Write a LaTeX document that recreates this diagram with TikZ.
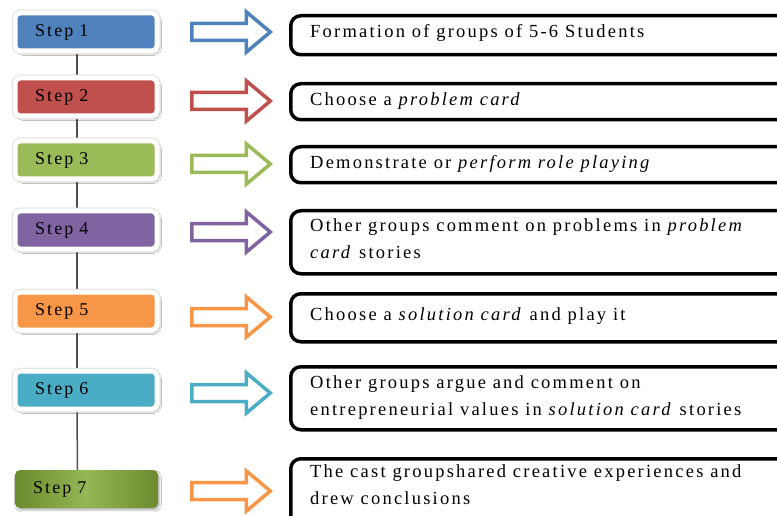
\documentclass[tikz,border=0pt]{standalone}
\usepackage{fontspec}
\setmainfont{Liberation Serif}[LetterSpace=12]
\usetikzlibrary{shapes.arrows,shadows.blur,backgrounds}

\definecolor{cblue}{HTML}{4F81BD}
\definecolor{cred}{HTML}{C0504D}
\definecolor{cgreen}{HTML}{9BBB59}
\definecolor{cpurple}{HTML}{8064A2}
\definecolor{corange}{HTML}{F79646}
\definecolor{caqua}{HTML}{4BACC6}
\definecolor{colivedark}{HTML}{6C8A2E}
\definecolor{colivelight}{HTML}{95B755}
\definecolor{cline}{HTML}{505050}

\begin{document}
\begin{tikzpicture}[x=1pt,y=-1pt,
  stepbox/.style={
    blur shadow={shadow xshift=2.5pt,shadow yshift=-2.5pt,shadow blur steps=6,shadow opacity=35},
    preaction={draw=black!16,line width=6.5pt,rounded corners=5pt},
    fill=#1, draw=white, line width=5pt, rounded corners=5pt,
    minimum width=142pt, minimum height=38pt, text width=102pt,
    inner xsep=20pt, inner ysep=0pt, align=left,
    font=\fontsize{18}{20}\selectfont},
  laststep/.style={
    blur shadow={shadow xshift=1.5pt,shadow yshift=-2pt,shadow blur steps=5,shadow opacity=30},
    shading=axis, left color=colivedark, right color=colivedark, middle color=colivelight,
    rounded corners=5pt,
    minimum width=143pt, minimum height=38pt, text width=107pt,
    inner xsep=18pt, inner ysep=0pt, align=left,
    font=\fontsize{18}{20}\selectfont},
  flowarrow/.style={single arrow, draw=#1, fill=white, line width=3.5pt,
    minimum height=78.5pt, minimum width=36.5pt, inner xsep=0pt, inner ysep=6.75pt,
    single arrow head extend=11.5pt, single arrow tip angle=80, line join=miter},
  infobox/.style={draw=black, line width=3.5pt, rounded corners=10pt, fill=white,
    minimum width=520pt, anchor=north west, inner sep=0pt},
  infotext/.style={anchor=west, align=left, inner sep=0pt,
    font=\fontsize{18.5}{27}\selectfont},
  link/.style={draw=cline, line width=1.5pt}
]
\useasboundingbox (0,0) rectangle (777,516);
\clip (0,0) rectangle (777,516);

% step column
\node[stepbox=cblue]   (s1) at (86,32)  {Step 1};
\node[stepbox=cred]    (s2) at (86,97)  {Step 2};
\node[stepbox=cgreen]  (s3) at (86,160) {Step 3};
\node[stepbox=cpurple] (s4) at (86,230) {Step 4};
\node[stepbox=corange] (s5) at (86,311) {Step 5};
\node[stepbox=caqua]   (s6) at (86,390) {Step 6};
\node[laststep]        (s7) at (86.5,489) {Step 7};

% white page and the vertical link between the steps, behind everything
\begin{scope}[on background layer]
  \fill[white] (0,0) rectangle (777,516);
  \foreach \a/\b in {s1/s2,s2/s3,s3/s4,s4/s5,s5/s6,s6/s7}
    \draw[link] ([xshift=-9pt]\a.south) -- ([xshift=-9pt]\b.north);
\end{scope}

% hollow arrows
\node[flowarrow=cblue]   (a1) at (226,32)  {};
\node[flowarrow=cred]    (a2) at (226,101) {};
\node[flowarrow=cgreen]  (a3) at (226,164) {};
\node[flowarrow=cpurple] (a4) at (226,232) {};
\node[flowarrow=corange] (a5) at (226,317) {};
\node[flowarrow=caqua]   (a6) at (226,393) {};
\node[flowarrow=corange] (a7) at (226,491) {};

% description boxes
\node[infobox, minimum height=39pt] (b1) at (289,14)  {};
\node[infobox, minimum height=36pt] (b2) at (289,82)  {};
\node[infobox, minimum height=36pt] (b3) at (289,145) {};
\node[infobox, minimum height=63pt] (b4) at (289,209) {};
\node[infobox, minimum height=48pt] (b5) at (289,292) {};
\node[infobox, minimum height=63pt] (b6) at (289,365) {};
\node[infobox, minimum height=70pt] (b7) at (289,457) {};

\node[infotext] (t1) at (310,33)  {Formation of groups of 5-6 Students};
\node[infotext] (t2) at (310,101) {Choose a \textit{problem card}};
\node[infotext] (t3) at (310,164) {Demonstrate or \textit{perform role playing}};
\node[infotext] (t4) at (310,239) {Other groups comment on problems in \textit{problem}\\\textit{card} stories};
\node[infotext] (t5) at (310,316) {Choose a \textit{solution card} and play it};
\node[infotext] (t6) at (310,398) {Other groups argue and comment on\\entrepreneurial values in \textit{solution card} stories};
\node[infotext] (t7) at (310,485) {The cast groupshared creative experiences and\\drew conclusions};
\end{tikzpicture}
\end{document}
